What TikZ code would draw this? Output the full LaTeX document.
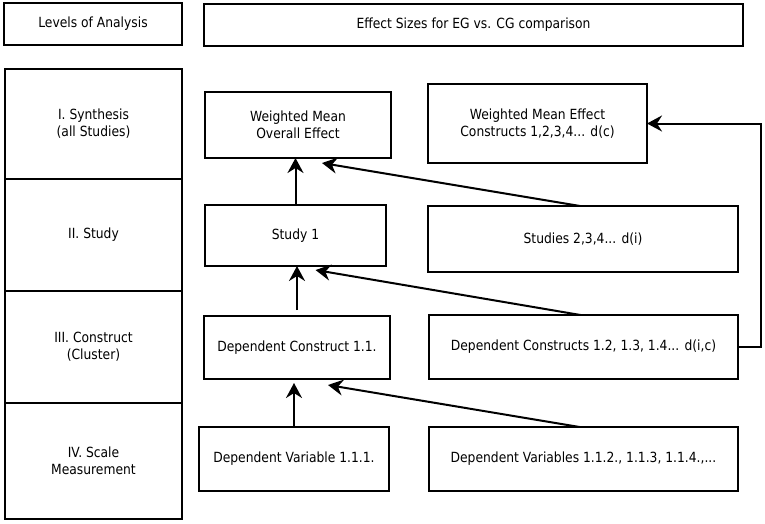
\documentclass[tikz,border=0pt]{standalone}
\usepackage{fontspec}
\setmainfont{DejaVu Sans}[FakeStretch = 0.88]
\usepackage{tikz}
\usetikzlibrary{arrows.meta}
\usetikzlibrary{calc}
\tikzset{box/.style = {draw, line width = 2.2pt, inner sep = 0, outer sep = 0, align = center,
                       font = \fontsize{14}{17}\selectfont}}
\tikzset{arr/.style = {line width = 2pt, -{Stealth[length = 15pt, width = 16pt, inset = 5pt]}}}

\begin{document}
\begin{tikzpicture}[x = 1pt, y = -1pt]
    \useasboundingbox (0, 0) rectangle (765, 523);

    \node [box, minimum width = 178, minimum height = 42] (levels) at (93, 24) {Levels of Analysis};
    \node [box, minimum width = 539, minimum height = 42] (effect) at (473.5, 25) {Effect Sizes for EG vs. CG comparison};

    \node [box, minimum width = 177, minimum height = 110] (synth) at (93.5, 124) {I. Synthesis\\(all Studies)};
    \node [box, minimum width = 177, minimum height = 112] (study) at (93.5, 235) {II. Study};
    \node [box, minimum width = 177, minimum height = 112] (construct) at (93.5, 347) {III. Construct\\(Cluster)};
    \node [box, minimum width = 177, minimum height = 116] (scale) at (93.5, 461) {IV. Scale\\Measurement};

    \node [box, minimum width = 186, minimum height = 66] (wmoe) at (298, 125) {Weighted Mean\\Overall Effect};
    \node [box, minimum width = 219, minimum height = 79] (wmec) at (537.5, 123.5) {Weighted Mean Effect\\Constructs 1,2,3,4... d(c)};
    \node [box, minimum width = 181, minimum height = 61] (study1) at (295.5, 235.5) {Study 1};
    \node [box, minimum width = 310, minimum height = 66] (studies) at (583, 239) {Studies 2,3,4... d(i)};
    \node [box, minimum width = 186, minimum height = 63] (dc11) at (297, 347.5) {Dependent Construct 1.1.};
    \node [box, minimum width = 309, minimum height = 64] (dc12) at (583.5, 347) {Dependent Constructs 1.2, 1.3, 1.4... d(i,c)};
    \node [box, minimum width = 190, minimum height = 64] (dv111) at (294, 459) {Dependent Variable 1.1.1.};
    \node [box, minimum width = 309, minimum height = 64] (dv112) at (583.5, 459) {Dependent Variables 1.1.2., 1.1.3, 1.1.4.,...};

    \draw [arr] (study1.north) -- (study1.north |- wmoe.south);
    \draw [arr, shorten < = 6] (dc11.north) -- (dc11.north |- study1.south);
    \draw [arr] (dv111.north) -- ($(dv111.north |- dc11.south) + (0, 4)$);
    \draw [arr] ($(studies.north) + (-3, 0)$) -- ($(wmoe.south) + (24, 5)$);
    \draw [arr] ($(dc12.north) + (-3, 0)$) -- ($(study1.south) + (20, 4)$);
    \draw [arr] ($(dv112.north) + (-4, 0)$) -- ($(dc11.south) + (31, 6)$);
    \draw [arr] (dc12.east) -- ++(23, 0) |- (wmec.east);
  \end{tikzpicture}
\end{document}
